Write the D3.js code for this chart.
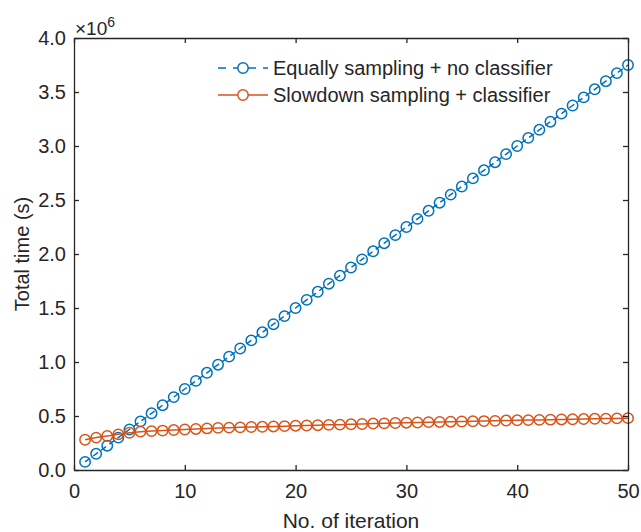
<!DOCTYPE html>
<html>
<head>
<meta charset="utf-8">
<script src="https://cdn.jsdelivr.net/npm/d3@7"></script>
<style>
  body { margin: 0; background: #fff; }
  text { font-family: "Liberation Sans", Arial, Helvetica, sans-serif; fill: #262626; }
</style>
</head>
<body>
<svg id="chart"></svg>
<script>
const iterations = [1,2,3,4,5,6,7,8,9,10,11,12,13,14,15,16,17,18,19,20,21,22,23,24,25,
  26,27,28,29,30,31,32,33,34,35,36,37,38,39,40,41,42,43,44,45,46,47,48,49,50];

// values in units of 1e6 seconds
const equalSampling = [0.075,0.15,0.225,0.30,0.375,0.45,0.525,0.60,0.675,0.75,
  0.825,0.90,0.975,1.05,1.125,1.20,1.275,1.35,1.425,1.50,
  1.575,1.65,1.725,1.80,1.875,1.95,2.025,2.10,2.175,2.25,
  2.325,2.40,2.475,2.55,2.625,2.70,2.775,2.85,2.925,3.00,
  3.075,3.15,3.225,3.30,3.375,3.45,3.525,3.60,3.675,3.75];

const slowdownSampling = [0.28,0.30,0.315,0.33,0.345,0.355,0.36,0.365,0.37,0.375,
  0.38,0.385,0.39,0.392,0.395,0.398,0.40,0.403,0.406,0.41,
  0.412,0.415,0.418,0.42,0.423,0.426,0.43,0.432,0.435,0.438,
  0.44,0.443,0.445,0.447,0.449,0.451,0.453,0.455,0.458,0.46,
  0.462,0.464,0.466,0.468,0.47,0.472,0.474,0.476,0.478,0.48];

const seriesNames = ['Equally sampling + no classifier', 'Slowdown sampling + classifier'];
const xTicks = [0,10,20,30,40,50];
const yTicks = [0,0.5,1.0,1.5,2.0,2.5,3.0,3.5,4.0];

const margin = { top: 38, right: 13, bottom: 62, left: 74 };
const width = 641 - margin.left - margin.right;
const height = 532 - margin.top - margin.bottom;

const svg = d3.select('#chart')
  .attr('width', 641)
  .attr('height', 532);

const g = svg.append('g')
  .attr('transform', `translate(${margin.left},${margin.top})`);

const xScale = d3.scaleLinear().domain([0, 50]).range([0, width]);
const yScale = d3.scaleLinear().domain([0, 4]).range([height, 0]);

const blue = '#0072BD';
const orange = '#D95319';

const data = [
  { name: seriesNames[0], color: blue, dash: '6,4', values: iterations.map((x, i) => ({ x, y: equalSampling[i] })) },
  { name: seriesNames[1], color: orange, dash: null, values: iterations.map((x, i) => ({ x, y: slowdownSampling[i] })) }
];

const line = d3.line()
  .x(d => xScale(d.x))
  .y(d => yScale(d.y));

// series lines + markers
data.forEach(s => {
  g.append('path')
    .attr('d', line(s.values))
    .attr('fill', 'none')
    .attr('stroke', s.color)
    .attr('stroke-width', 1.5)
    .attr('stroke-dasharray', s.dash);

  g.selectAll(null)
    .data(s.values)
    .enter()
    .append('circle')
    .attr('cx', d => xScale(d.x))
    .attr('cy', d => yScale(d.y))
    .attr('r', 5.2)
    .attr('fill', 'none')
    .attr('stroke', s.color)
    .attr('stroke-width', 1.5);
});

// axes, ticks inward, box
const axisColor = '#262626';
const tickLen = 5;

const xBottom = g.append('g')
  .attr('transform', `translate(0,${height})`)
  .call(d3.axisBottom(xScale).tickValues(xTicks).tickSizeInner(-tickLen).tickSizeOuter(0).tickPadding(14));
const xTop = g.append('g')
  .call(d3.axisTop(xScale).tickValues(xTicks).tickSizeInner(-tickLen).tickSizeOuter(0).tickFormat(''));
const yLeft = g.append('g')
  .call(d3.axisLeft(yScale).tickValues(yTicks).tickSizeInner(-tickLen).tickSizeOuter(0).tickPadding(8).tickFormat(d3.format('.1f')));
const yRight = g.append('g')
  .attr('transform', `translate(${width},0)`)
  .call(d3.axisRight(yScale).tickValues(yTicks).tickSizeInner(-tickLen).tickSizeOuter(0).tickFormat(''));

[xBottom, xTop, yLeft, yRight].forEach(a => {
  a.select('.domain').attr('stroke', axisColor).attr('stroke-width', 1.3);
  a.selectAll('.tick line').attr('stroke', axisColor).attr('stroke-width', 1.3);
  a.selectAll('.tick text').style('font-size', '20px').attr('fill', axisColor);
});

// exponent label
g.append('text')
  .attr('x', 1)
  .attr('y', -3)
  .style('font-size', '19px')
  .text('\u00D710')
  .append('tspan')
  .attr('dy', -8)
  .style('font-size', '14px')
  .text('6');

// axis titles
svg.append('text')
  .attr('x', margin.left + width / 2)
  .attr('y', 528)
  .attr('text-anchor', 'middle')
  .style('font-size', '21px')
  .text('No. of iteration');

svg.append('text')
  .attr('transform', `translate(29,${margin.top + height / 2}) rotate(-90)`)
  .attr('text-anchor', 'middle')
  .style('font-size', '20px')
  .text('Total time (s)');

// legend
const legend = g.append('g').attr('transform', 'translate(144,30)');
data.forEach((s, i) => {
  const row = legend.append('g').attr('transform', `translate(0,${i * 27})`);
  row.append('line')
    .attr('x1', 0).attr('x2', 50)
    .attr('stroke', s.color)
    .attr('stroke-width', 1.5)
    .attr('stroke-dasharray', s.dash ? '8,7' : null);
  row.append('circle')
    .attr('cx', 25).attr('r', 5.2)
    .attr('fill', '#fff')
    .attr('stroke', s.color)
    .attr('stroke-width', 1.5);
  row.append('text')
    .attr('x', 55)
    .attr('dy', '0.35em')
    .style('font-size', '20px')
    .text(s.name);
});
</script>
</body>
</html>
